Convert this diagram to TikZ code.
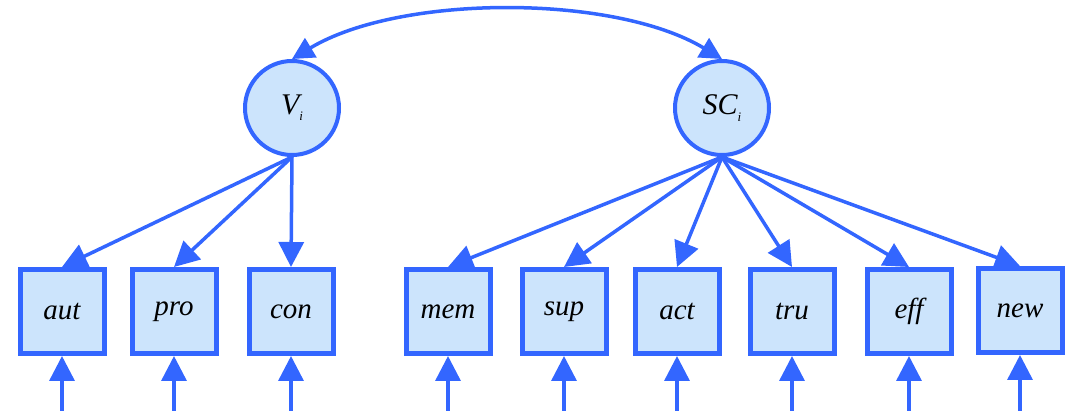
\documentclass[tikz,border=0pt]{standalone}
\usepackage{fontspec}
\setmainfont{Liberation Serif}
\usetikzlibrary{arrows.meta}
\definecolor{edge}{RGB}{51,102,255}
\definecolor{pale}{RGB}{204,228,252}
\newcommand\latsub[1]{\raisebox{-0.45ex}{\fontsize{13}{15}\selectfont #1}}
\begin{document}
\begin{tikzpicture}[x=1pt,y=-1pt,
  latent/.style={circle,draw=edge,fill=pale,line width=4pt,minimum size=94pt,inner sep=0pt,
    font=\fontsize{30}{34}\selectfont\itshape},
  observed/.style={rectangle,draw=edge,fill=pale,line width=5pt,minimum width=84pt,
    minimum height=84pt,inner sep=0pt,font=\fontsize{29}{33}\selectfont\itshape},
  load/.style={draw=edge,line width=3.5pt,-{Triangle[length=25pt,width=25pt]}},
  corr/.style={draw=edge,line width=3.5pt,{Triangle[length=22pt,width=22pt]}-{Triangle[length=22pt,width=22pt]}},
]
\useasboundingbox (0,0) rectangle (1076,411);

% latent factors
\node[latent] (V)  at (292,108) {V\latsub{i}};
\node[latent] (SC) at (722,108) {SC\latsub{i}};

% indicators
\node[observed] (aut) at (62,311.5)   {aut};
\node[observed] (pro) at (174,311.5)  {pro};
\node[observed] (con) at (291,311.5)  {con};
\node[observed] (mem) at (448,311.5)  {mem};
\node[observed] (sup) at (564,311.5)  {sup};
\node[observed] (act) at (677,311.5)  {act};
\node[observed] (tru) at (792,311.5)  {tru};
\node[observed] (eff) at (909,311.5)  {eff};
\node[observed] (new) at (1020,310.5) {new};

% factor correlation
\draw[corr] (V.north) .. controls (400,-6) and (614,-6) .. (SC.north);

% loadings, all leaving from the foot of their factor
\foreach \m in {aut,pro,con}
  \draw[load] (V.south) -- (\m.north);
\foreach \m in {mem,sup,act,tru,eff,new}
  \draw[load] (SC.south) -- (\m.north);

% error terms
\foreach \m in {aut,pro,con,mem,sup,act,tru,eff,new} {
  \coordinate (e\m) at (\m.south |- 0,411);
  \draw[load] (e\m) -- (\m.south);
}
\end{tikzpicture}
\end{document}
